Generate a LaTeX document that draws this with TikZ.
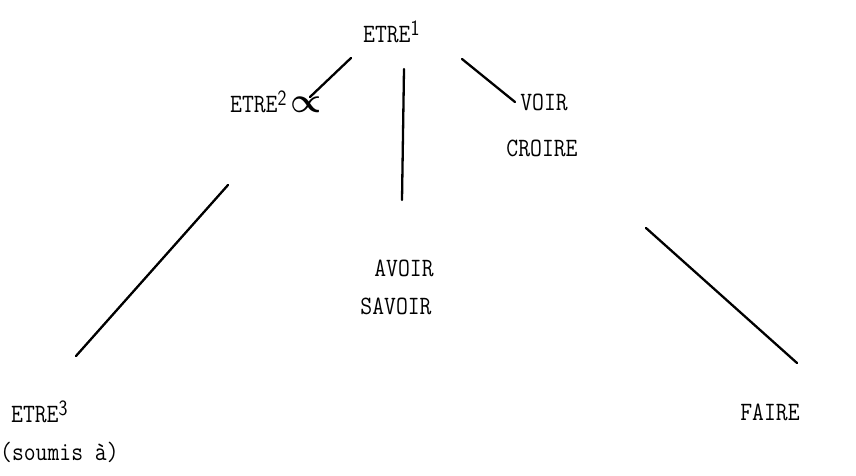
\documentclass[tikz,border=0pt]{standalone}
\usepackage{amsmath}
\usepackage{fontspec}
% typed label: monospace, slightly stretched upright like typewriter caps
\newcommand{\typed}[1]{\scalebox{1}[1.15]{#1}}
\newcommand{\supnum}[1]{\raisebox{6.5pt}{\fontsize{19}{19}\selectfont\sffamily #1}}
\begin{document}
\begin{tikzpicture}[x=1pt,y=-1pt,
  word/.style={font=\fontsize{23}{27}\selectfont\ttfamily\addfontfeatures{FakeBold=2}, inner sep=0pt},
  branch/.style={line width=2.3pt, line cap=round}]
\useasboundingbox (0,0) rectangle (856,476);
% labels
\node[word, anchor=west] (e1) at (363,32) {\typed{ETRE\supnum{1}}};
\node[word, anchor=west] (e2) at (230,102) {\typed{ETRE\supnum{2}}\,\scalebox{1.4}{$\boldsymbol{\propto}$}};
\node[word] (voir) at (544,102) {\typed{VOIR}};
\node[word] (croire) at (542,148) {\typed{CROIRE}};
\node[word] (avoir) at (404,268) {\typed{AVOIR}};
\node[word] (savoir) at (396,306) {\typed{SAVOIR}};
\node[word, anchor=west] (e3) at (11,412) {\typed{ETRE\supnum{3}}};
\node[word, anchor=west] (soumis) at (0,452) {\typed{(soumis \`a)}};
\node[word] (faire) at (770,412) {\typed{FAIRE}};
% branch ends
\coordinate (a1) at (351,58);
\coordinate (a2) at (310,97);
\coordinate (b1) at (404,69);
\coordinate (b2) at (402,200);
\coordinate (c1) at (462,59);
\coordinate (c2) at (515,102);
\coordinate (d1) at (228,185);
\coordinate (d2) at (76,356);
\coordinate (f1) at (646,228);
\coordinate (f2) at (797,363);
% branches
\draw[branch] (a1) -- (a2);
\draw[branch] (b1) -- (b2);
\draw[branch] (c1) -- (c2);
\draw[branch] (d1) -- (d2);
\draw[branch] (f1) -- (f2);
\end{tikzpicture}
\end{document}
